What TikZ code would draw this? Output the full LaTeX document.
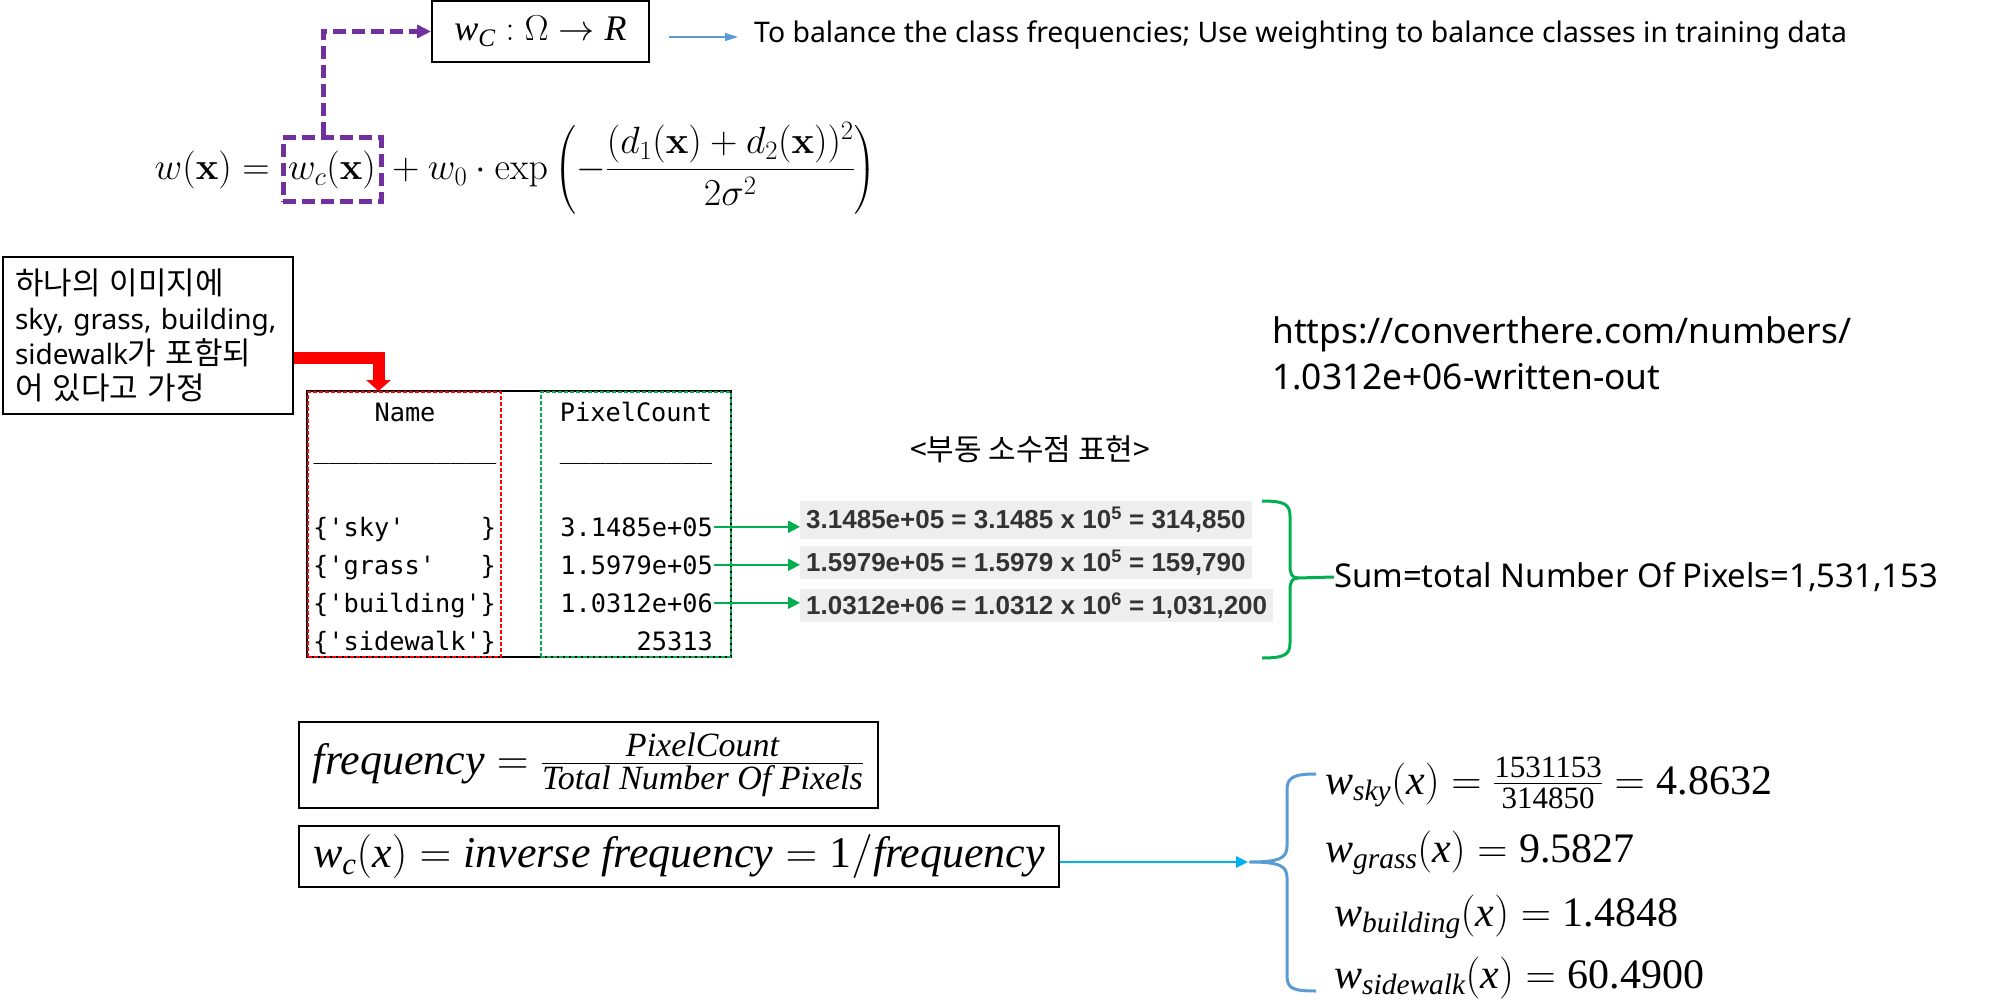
\RequirePackage{fix-cm}
\documentclass[tikz,border=0pt]{standalone}
\usepackage{amsmath}
\usepackage[no-math]{fontspec}
\setmainfont{Noto Sans}
\setmonofont{DejaVu Sans Mono}
\newfontfamily\kr{Noto Sans CJK KR}
\newfontfamily\cambria{Liberation Serif}
\newfontfamily\numfont{Liberation Sans}
\usetikzlibrary{arrows.meta,positioning,calc}
\definecolor{wcpurple}{HTML}{7030A0}
\definecolor{okgreen}{HTML}{00B050}
\definecolor{lineblue}{HTML}{5B9BD5}
\definecolor{arrowcyan}{HTML}{00B0F0}
\definecolor{boxgray}{HTML}{EEEEEE}
\definecolor{numgray}{HTML}{333333}
\newcommand{\sz}[2]{\fontsize{#1}{#2}\selectfont}
\newcommand{\vi}[1]{\text{\itshape #1}}
\newcommand{\vu}[1]{\text{#1}}
\newcommand{\q}[1]{\textquotesingle#1\textquotesingle}
\newcommand{\hg}[1]{{\kr\sz{31}{35}#1}}
\begin{document}
\begin{tikzpicture}[x=1pt, y=-1pt,
    box/.style={draw=black, line width=2.5pt, inner sep=0pt},
    wcbox/.style={draw=wcpurple, line width=5pt, dash pattern=on 13pt off 6pt,
      inner xsep=3pt, inner ysep=0pt, minimum width=98pt, minimum height=64pt},
    wcline/.style={wcpurple, line width=5pt, dash pattern=on 13pt off 6pt,
      -{Triangle[length=14pt,width=13pt]}},
    thinblue/.style={lineblue, line width=1.2pt, -{Triangle[length=13pt,width=8pt]}},
    redarrow/.style={red, line width=12pt, -{Triangle[length=11pt,width=24pt]}},
    grnarrow/.style={okgreen, line width=2pt, -{Triangle[length=12pt,width=12pt]}},
    grnbrace/.style={okgreen, line width=3pt, line join=round},
    bluebrace/.style={lineblue, line width=3pt, line join=round},
    cyanarrow/.style={arrowcyan, line width=2.5pt, -{Triangle[length=12pt,width=11pt]}},
    tex/.style={font=\sz{38}{44}, inner sep=0pt},
    note/.style={font=\sz{28.4}{34}, inner sep=0pt},
    mono/.style={font=\ttfamily\sz{25.3}{30}, inner sep=1pt},
    col/.style={line width=1.8pt, dash pattern=on 4pt off 2pt, minimum height=265pt},
    numbox/.style={anchor=west, fill=boxgray, text=numgray, font=\numfont\bfseries\sz{26}{30},
      inner xsep=6pt, minimum height=31pt},
    weq/.style={anchor=west, font=\cambria\sz{42}{48}, inner sep=0pt}]
  \useasboundingbox (0,0) rectangle (1991,1008);

  \node[box, line width=2pt, minimum width=217pt, minimum height=61pt, font=\cambria\sz{36}{40}]
    (wC) at (540.5,31.5) {$\vi{w}_{\vi{C}} \mathrel{:} \Omega \rightarrow \vi{R}$};
  \node[note, anchor=west] (note) at (754,35)
    {To balance the class frequencies; Use weighting to balance classes in training data};
  \draw[thinblue] ([xshift=19pt,yshift=-5.5pt]wC.east) -- ++(69,0);

  \node[wcbox, font=\sz{38}{44}] (wcx) at (332,170) {$w_c(\mathbf{x})$};
  \node[tex, anchor=base east] (lhs) at (wcx.base west) {$w(\mathbf{x}) ={}$};
  \node[tex, anchor=base west] (rest) at (wcx.base east)
    {${}+ w_0 \cdot \exp\left(-\dfrac{(d_1(\mathbf{x})+d_2(\mathbf{x}))^2}{2\sigma^2}\right)$};
  \draw[wcline] ([xshift=-9pt]wcx.north) |- (wC.west);

  \node[box, text width=266pt, align=left, inner xsep=12pt, minimum height=157pt,
    font=\sz{28}{35}] (assume) at (148,335.5)
    {\hg{하나의~이미지에}\\sky,~grass,~building,\\sidewalk\hg{가~포함되}\\\hg{어~있다고~가정}};

  \node[draw, line width=2pt, minimum width=424pt, minimum height=266pt] (tbl) at (519,524) {};
  \node[col, draw=red, minimum width=193pt] (namecol) at (404.5,524.5) {};
  \node[col, draw=okgreen, minimum width=190pt] (cntcol) at (636,524.5) {};
  \draw[redarrow] ([yshift=-22.5pt]assume.east) -| ([xshift=-26pt]namecol.north);

  \node[mono, anchor=base] (nhead) at (405,421) {Name};
  \node[mono, anchor=base] (chead) at (636,421) {PixelCount};
  \node[mono, anchor=base] (nrule) at (405,458) {\_\_\_\_\_\_\_\_\_\_\_\_};
  \node[mono, anchor=base] (crule) at (636,458) {\_\_\_\_\_\_\_\_\_\_};
  \foreach \nm/\cnt [count=\i] in {\q{sky}~~~~~/3.1485e+05, \q{grass}~~~/1.5979e+05,
      \q{building}/1.0312e+06, \q{sidewalk}/25313} {
    \node[mono, anchor=base west] (n\i) at (312,498+38*\i) {\{\nm\}};
    \node[mono, anchor=base east] (c\i) at (714,498+38*\i) {\cnt};
  }

  \node[numbox, minimum height=38pt] (g1) at (800,520)
    {3.1485e+05 = 3.1485 x 10\textsuperscript{5} = 314,850};
  \node[numbox] (g2) at (800,562.5) {1.5979e+05 = 1.5979 x 10\textsuperscript{5} = 159,790};
  \node[numbox] (g3) at (800,605.5) {1.0312e+06 = 1.0312 x 10\textsuperscript{6} = 1,031,200};
  \foreach \i in {1,2,3}
    \draw[grnarrow] (c\i.east) -- (c\i.east -| g\i.west);

  \node[font=\kr\sz{30}{36}] (fplabel) at (1030,449) {<부동 소수점 표현>};
  \node[font=\sz{35.3}{46}, anchor=base west, inner sep=0pt] (url) at (1272,343)
    {https://converthere.com/numbers/};
  \node[font=\sz{35.3}{46}, anchor=base west, inner sep=0pt] (url2) at ([yshift=-46pt]url.base west)
    {1.0312e+06-written-out};

  \draw[grnbrace] (1262,501) .. controls (1284,501) and (1290,504) .. (1290,516) -- (1290,566)
    .. controls (1290,574) and (1292,578) .. (1298,578)
    .. controls (1292,578) and (1290,582) .. (1290,590) -- (1290,643)
    .. controls (1290,655) and (1284,658) .. (1262,658);
  \coordinate (gtip) at (1298,578);
  \node[anchor=west, font=\sz{32.8}{38}, inner sep=0pt] (sum) at (1334,577)
    {Sum=total Number Of Pixels=1,531,153};
  \draw[grnbrace] (gtip) -- (sum.west);

  \node[box, minimum width=579pt, minimum height=86pt, font=\cambria\sz{44}{50}] (freq) at (588.5,765)
    {$\vi{frequency} = \frac{\vi{\sz{34}{34}PixelCount}}{\vi{\sz{34}{34}Total Number Of Pixels}}$};
  \node[box, minimum width=760pt, minimum height=61pt, font=\cambria\sz{44}{50}] (wcdef) at (679,856.5)
    {$\vi{w}_{\vi{c}}(\vi{x}) = \vi{inverse frequency} = \vu{1}/\vi{frequency}$};

  \draw[bluebrace] (1316,774) .. controls (1294,774) and (1287,777) .. (1287,790) -- (1287,846)
    .. controls (1287,858) and (1280,862) .. (1250,862)
    .. controls (1280,862) and (1287,866) .. (1287,878) -- (1287,976)
    .. controls (1287,989) and (1294,991) .. (1316,991);
  \coordinate (btip) at (1248,862);
  \draw[cyanarrow] (wcdef.east |- btip) -- (btip);

  \node[weq] (wsky) at (1325,783)
    {$\vi{w}_{\vi{sky}}(\vi{x}) = \frac{\vu{\sz{31}{31}1531153}}{\vu{\sz{31}{31}314850}} = \vu{4.8632}$};
  \node[weq] (wgrass) at (1325,853) {$\vi{w}_{\vi{grass}}(\vi{x}) = \vu{9.5827}$};
  \node[weq] (wbuild) at (1334,917) {$\vi{w}_{\vi{building}}(\vi{x}) = \vu{1.4848}$};
  \node[weq] (wside) at (1334,978) {$\vi{w}_{\vi{sidewalk}}(\vi{x}) = \vu{60.4900}$};
\end{tikzpicture}
\end{document}
